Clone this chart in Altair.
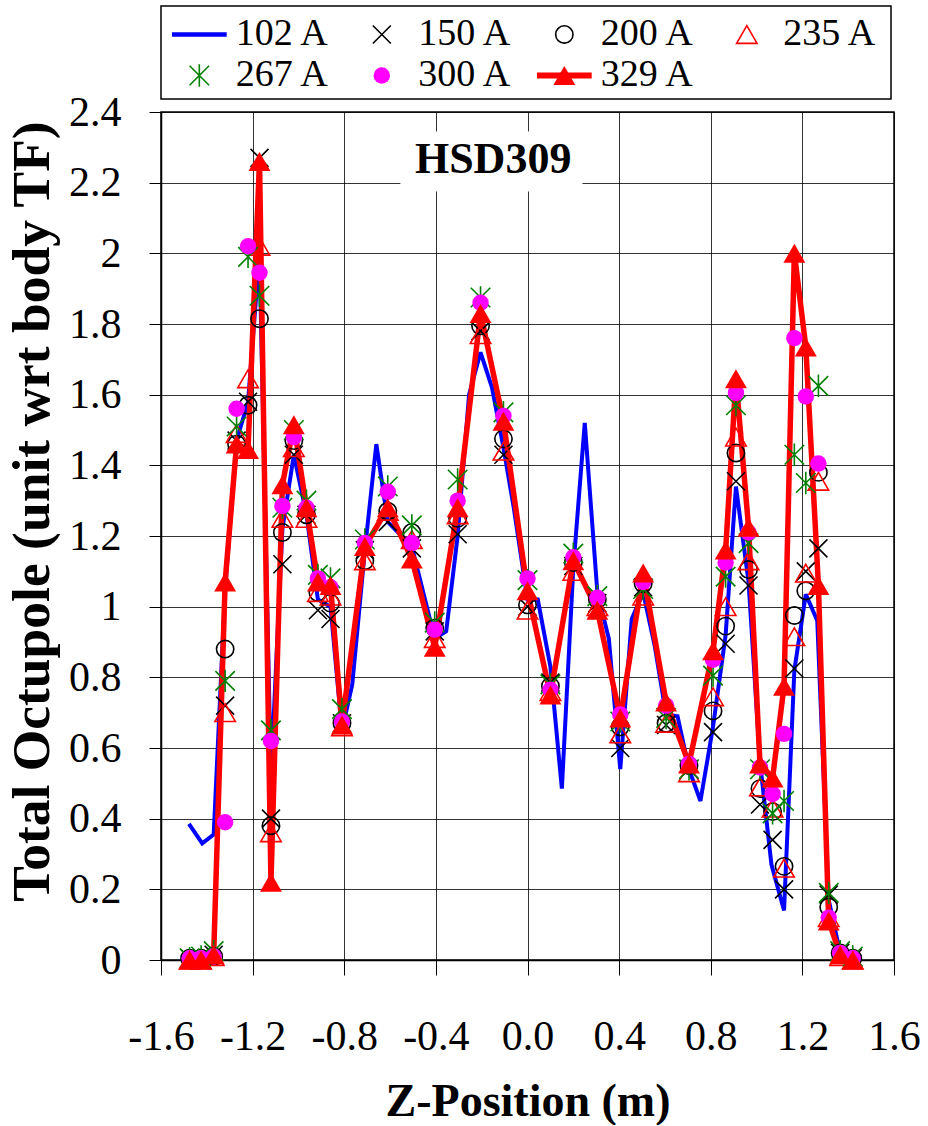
import altair as alt
import pandas as pd

# ---------------- data ----------------
SERIES = ["102 A", "150 A", "200 A", "235 A", "267 A", "300 A", "329 A"]

# z positions shared by the marker series
Z = [-1.475, -1.425, -1.37, -1.32, -1.27, -1.22, -1.17, -1.12, -1.07, -1.02, -0.965, -0.915, -0.86, -0.81,
     -0.71, -0.61, -0.505, -0.405, -0.305, -0.205, -0.105, 0.0, 0.1, 0.2, 0.305, 0.405, 0.505, 0.605, 0.705,
     0.81, 0.865, 0.91, 0.965, 1.015, 1.07, 1.12, 1.165, 1.215, 1.27, 1.315, 1.365, 1.42]

A150 = [0.005, 0.0, 0.015, 0.72, 1.47, 1.58, 2.27, 0.40, 1.12, 1.43, 1.26, 0.99, 0.965, 0.67,
        1.16, 1.24, 1.165, 0.93, 1.205, 1.78, 1.43, 1.0, 0.785, 1.115, 1.01, 0.60, 1.055, 0.665, 0.54,
        0.645, 0.895, 1.355, 1.06, 0.44, 0.34, 0.20, 0.825, 1.10, 1.165, 0.185, 0.02, 0.005]
A200 = [0.005, 0.005, 0.01, 0.88, 1.46, 1.57, 1.815, 0.38, 1.21, 1.47, 1.26, 1.04, 1.01, 0.67,
        1.13, 1.27, 1.21, 0.94, 1.25, 1.795, 1.475, 1.005, 0.775, 1.125, 1.02, 0.66, 1.065, 0.67, 0.55,
        0.705, 0.945, 1.435, 1.105, 0.485, 0.42, 0.265, 0.975, 1.045, 1.38, 0.15, 0.02, 0.005]
A235 = [0.0, 0.0, 0.01, 0.70, 1.49, 1.645, 2.02, 0.36, 1.25, 1.45, 1.25, 1.04, 1.03, 0.66,
        1.13, 1.27, 1.19, 0.91, 1.26, 1.77, 1.44, 0.99, 0.76, 1.10, 1.0, 0.64, 1.03, 0.67, 0.53,
        0.745, 1.0, 1.48, 1.13, 0.49, 0.43, 0.26, 0.915, 1.095, 1.355, 0.12, 0.01, 0.0]
A267 = [0.005, 0.01, 0.025, 0.79, 1.51, 1.99, 1.88, 0.65, 1.28, 1.50, 1.30, 1.09, 1.08, 0.71,
        1.19, 1.34, 1.23, 0.955, 1.36, 1.875, 1.55, 1.075, 0.78, 1.15, 1.03, 0.675, 1.05, 0.685, 0.54,
        0.805, 1.085, 1.57, 1.18, 0.54, 0.415, 0.45, 1.43, 1.35, 1.625, 0.19, 0.025, 0.01]
A300 = [0.005, 0.005, 0.01, 0.39, 1.56, 2.02, 1.945, 0.62, 1.285, 1.48, 1.28, 1.08, 1.055, 0.675,
        1.18, 1.325, 1.18, 0.935, 1.30, 1.86, 1.54, 1.08, 0.765, 1.14, 1.025, 0.695, 1.07, 0.72, 0.555,
        0.85, 1.125, 1.605, 1.21, 0.545, 0.47, 0.64, 1.76, 1.595, 1.405, 0.12, 0.02, 0.005]
A329 = [0.0, 0.0, 0.015, 1.07, 1.46, 1.445, 2.26, 0.22, 1.345, 1.515, 1.28, 1.07, 1.06, 0.665,
        1.17, 1.28, 1.135, 0.885, 1.28, 1.83, 1.525, 1.045, 0.75, 1.13, 0.99, 0.685, 1.095, 0.73, 0.555,
        0.875, 1.16, 1.645, 1.225, 0.555, 0.515, 0.775, 2.0, 1.735, 1.06, 0.11, 0.015, 0.0]

# 102 A has its own, finer z grid
Z102 = [-1.478, -1.42, -1.37, -1.32, -1.27, -1.22, -1.17, -1.12, -1.07, -1.02, -0.965, -0.915, -0.86, -0.81,
        -0.765, -0.71, -0.66, -0.61, -0.55, -0.505, -0.405, -0.355, -0.305, -0.255, -0.205, -0.155, -0.105,
        -0.06, 0.0, 0.045, 0.1, 0.15, 0.2, 0.25, 0.305, 0.355, 0.405, 0.455, 0.505, 0.555, 0.605, 0.655,
        0.705, 0.755, 0.81, 0.865, 0.91, 0.965, 1.015, 1.065, 1.12, 1.165, 1.215, 1.265, 1.315, 1.365, 1.42]
A102 = [0.385, 0.33, 0.355, 1.05, 1.47, 1.58, 2.0, 0.52, 1.22, 1.43, 1.26, 1.02, 1.0, 0.65,
        0.78, 1.16, 1.46, 1.24, 1.2, 1.17, 0.91, 0.93, 1.2, 1.6, 1.72, 1.62, 1.45,
        1.28, 1.02, 1.02, 0.83, 0.485, 1.11, 1.52, 1.04, 0.91, 0.54, 0.965, 1.04, 0.89, 0.695, 0.69,
        0.54, 0.45, 0.66, 0.92, 1.34, 1.07, 0.56, 0.27, 0.14, 0.82, 1.035, 0.96, 0.17, 0.02, 0.005]

X_TICKS = [-1.6, -1.2, -0.8, -0.4, 0.0, 0.4, 0.8, 1.2, 1.6]
Y_TICKS = [0, 0.2, 0.4, 0.6, 0.8, 1, 1.2, 1.4, 1.6, 1.8, 2, 2.2, 2.4]
TITLE = "HSD309"

# legend grid (column, row) for each series
LEG_COL = [0, 1, 2, 3, 0, 1, 2]
LEG_ROW = [0, 0, 0, 0, 1, 1, 1]

# ---------------- build tables ----------------
rows = []
for z, v in zip(Z102, A102):
    rows.append({"series": "102 A", "z": z, "value": v})
for name, vals in [("150 A", A150), ("200 A", A200), ("235 A", A235),
                   ("267 A", A267), ("300 A", A300), ("329 A", A329)]:
    for z, v in zip(Z, vals):
        rows.append({"series": name, "z": z, "value": v})
df = pd.DataFrame(rows)

leg_df = pd.DataFrame({"series": SERIES, "col": LEG_COL, "row": LEG_ROW})

FONT = "Liberation Serif"
X_PATH = "M-1,-1L1,1M-1,1L1,-1"
AST_PATH = "M-1,-1L1,1M-1,1L1,-1M0,-1.15L0,1.15"

STYLE = {
    "150 A": dict(shape=X_PATH, filled=False, color="#000000", size=324, strokeWidth=1.6),
    "200 A": dict(shape="circle", filled=False, color="#000000", size=300, strokeWidth=1.6),
    "235 A": dict(shape="triangle-up", filled=False, color="#FF0000", size=420, strokeWidth=1.6),
    "267 A": dict(shape=AST_PATH, filled=False, color="#008000", size=380, strokeWidth=1.6),
    "300 A": dict(shape="circle", filled=True, color="#FF00FF", size=270, strokeWidth=0),
    "329 A": dict(shape="triangle-up", filled=True, color="#FF0000", size=480, strokeWidth=0),
}
LINE_STYLE = {"102 A": dict(color="#0000FF", strokeWidth=4),
              "329 A": dict(color="#FF0000", strokeWidth=5.5)}

xs = alt.Scale(domain=[-1.6, 1.6], nice=False, zero=False)
ys = alt.Scale(domain=[0, 2.4], nice=False, zero=False)

x_axis = alt.Axis(values=X_TICKS, grid=True, tickSize=15, labelFontSize=42,
                  labelExpr="(datum.value < 0 ? '-' : '') + format(abs(datum.value), '.1f')",
                  labelFlush=False, labelOverlap=False, labelBound=False,
                  labelPadding=41, title="Z-Position (m)", titleFontSize=46,
                  titleFontWeight="bold", titlePadding=22)
y_axis = alt.Axis(values=Y_TICKS, grid=True, tickSize=12, labelFontSize=42, format="~g",
                  labelFlush=False, labelOverlap=False, labelBound=False,
                  labelPadding=28, title="Total Octupole (unit wrt body TF)", titleFontSize=53.5,
                  titleFontWeight="bold", titleX=-129, titleY=399, titleBaseline="middle",
                  titleAlign="center", titleAngle=270)

base = alt.Chart(df)

layers = []
# title box (white background) and title text, in data coordinates
layers.append(alt.Chart(pd.DataFrame({"t": [TITLE]})).mark_rect(color="white").encode(
    x=alt.X(datum=-0.555, scale=xs, axis=x_axis), x2=alt.datum(0.24),
    y=alt.Y(datum=2.175, scale=ys, axis=y_axis), y2=alt.datum(2.345)))
layers.append(alt.Chart(pd.DataFrame({"t": [TITLE]})).mark_text(
    font=FONT, fontSize=44, fontWeight="bold", color="black", baseline="middle", align="center").encode(
    x=alt.datum(-0.15), y=alt.datum(2.265), text="t:N"))

for name in ["102 A", "329 A"]:
    st = LINE_STYLE[name]
    layers.append(base.transform_filter(alt.datum.series == name).mark_line(
        color=st["color"], strokeWidth=st["strokeWidth"], strokeJoin="miter", strokeMiterLimit=3).encode(
        x=alt.X("z:Q"), y=alt.Y("value:Q"), order="z:Q"))

for name in ["150 A", "200 A", "235 A", "267 A", "300 A", "329 A"]:
    st = STYLE[name]
    kw = dict(shape=st["shape"], filled=st["filled"], size=st["size"], opacity=1)
    if st["filled"]:
        kw.update(fill=st["color"], stroke=None)
    else:
        kw.update(stroke=st["color"], strokeWidth=st["strokeWidth"])
    layers.append(base.transform_filter(alt.datum.series == name).mark_point(**kw).encode(
        x=alt.X("z:Q"), y=alt.Y("value:Q")))

main = alt.layer(*layers).properties(width=733, height=848)

# ---------------- legend panel ----------------
lx = alt.Scale(domain=[0, 4], nice=False, zero=False)
ly = alt.Scale(domain=[0, 1], nice=False, zero=False, reverse=True)
leg_base = alt.Chart(leg_df).transform_calculate(
    sx="datum.col + 0.21", tx="datum.col + 0.41", ty="0.306 + datum.row * 0.441",
    lx1="datum.col + 0.06", lx2="datum.col + 0.36")

leg_layers = [leg_base.mark_text(font=FONT, fontSize=38, align="left", baseline="middle", color="black").encode(
    x=alt.X("tx:Q", scale=lx, axis=None), y=alt.Y("ty:Q", scale=ly, axis=None), text="series:N")]
for name in ["102 A", "329 A"]:
    st = LINE_STYLE[name]
    leg_layers.append(leg_base.transform_filter(alt.datum.series == name).mark_rule(
        color=st["color"], strokeWidth=st["strokeWidth"] + 0.5).encode(
        x=alt.X("lx1:Q", scale=lx, axis=None), x2="lx2:Q", y=alt.Y("ty:Q", scale=ly, axis=None)))
for name in ["150 A", "200 A", "235 A", "267 A", "300 A", "329 A"]:
    st = STYLE[name]
    kw = dict(shape=st["shape"], filled=st["filled"], size=st["size"], opacity=1)
    if st["filled"]:
        kw.update(fill=st["color"], stroke=None)
    else:
        kw.update(stroke=st["color"], strokeWidth=st["strokeWidth"])
    leg_layers.append(leg_base.transform_filter(alt.datum.series == name).mark_point(**kw).encode(
        x=alt.X("sx:Q", scale=lx, axis=None), y=alt.Y("ty:Q", scale=ly, axis=None)))

legend = alt.layer(*leg_layers).properties(width=730, height=93)

chart = alt.vconcat(legend, main, spacing=13, bounds="flush").properties(
    padding={"left": 4, "top": 5, "right": 4, "bottom": 0},
    background="white",
).configure_view(
    stroke="black", strokeWidth=1.5
).configure_axis(
    gridColor="#000000", gridOpacity=0.8, gridWidth=1,
    domainColor="#000000", domainWidth=1.5, tickColor="#000000", tickWidth=1,
    labelFont=FONT, titleFont=FONT, labelColor="black", titleColor="black",
)

chart.save("out.html", embed_options={"renderer": "svg", "actions": False})
